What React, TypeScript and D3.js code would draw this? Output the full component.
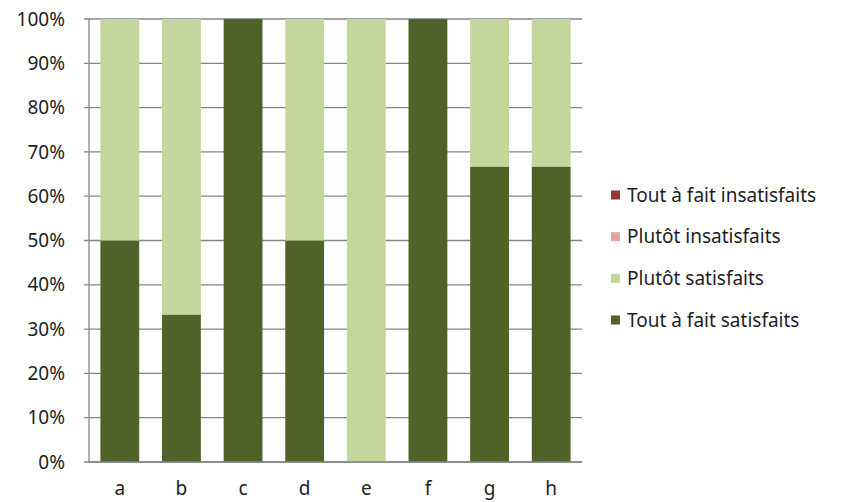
import React from "react";
import * as d3 from "d3";

const categories = ["a", "b", "c", "d", "e", "f", "g", "h"];
const toutSatisfaits = [50, 33.3, 100, 50, 0, 100, 66.7, 66.7];
const plutotSatisfaits = [50, 66.7, 0, 50, 100, 0, 33.3, 33.3];
const plutotInsatisfaits = [0, 0, 0, 0, 0, 0, 0, 0];
const toutInsatisfaits = [0, 0, 0, 0, 0, 0, 0, 0];
const yTicks = [0, 10, 20, 30, 40, 50, 60, 70, 80, 90, 100];

const seriesNames = ["Tout à fait satisfaits", "Plutôt satisfaits", "Plutôt insatisfaits", "Tout à fait insatisfaits"];
const seriesColors = ["#4f6228", "#c3d69b", "#e6a1a1", "#953735"];

export default function App() {
  const W = 845, H = 502;
  const left = 89, right = 582, top = 19, bottom = 462;
  const x = d3.scaleBand<string>().domain(categories).range([left, right]).paddingInner(0.37).paddingOuter(0.185);
  const y = d3.scaleLinear().domain([0, 100]).range([bottom, top]);

  const rows = categories.map((c, i) => ({
    cat: c,
    s0: toutSatisfaits[i],
    s1: plutotSatisfaits[i],
    s2: plutotInsatisfaits[i],
    s3: toutInsatisfaits[i],
  }));
  const stack = d3.stack<any>().keys(["s0", "s1", "s2", "s3"]);
  const layers = stack(rows);

  const font = "'Noto Sans', 'Open Sans', sans-serif";
  const fs = 19;
  const legendOrder = [3, 2, 1, 0];
  const legendY = d3.scalePoint<number>().domain([0, 1, 2, 3]).range([195, 320]);

  return (
    <svg width={W} height={H} style={{ position: "absolute", left: 0, top: 0, background: "#fff" }}>
      {yTicks.map((t) => (
        <line key={"g" + t} x1={left - 5} x2={right} y1={y(t)} y2={y(t)} stroke="#868686" strokeWidth={1.3} />
      ))}
      {layers.map((layer, li) =>
        layer.map((d, i) => (
          <rect
            key={li + "-" + i}
            x={x(categories[i])}
            width={x.bandwidth()}
            y={y(d[1])}
            height={Math.max(0, y(d[0]) - y(d[1]))}
            fill={seriesColors[li]}
          />
        ))
      )}
      <line x1={left} x2={left} y1={top} y2={bottom} stroke="#868686" strokeWidth={1.3} />
      <line x1={left} x2={right} y1={bottom} y2={bottom} stroke="#868686" strokeWidth={1.3} />
      {yTicks.map((t) => (
        <text key={"t" + t} x={65} y={y(t)} dy="0.35em" textAnchor="end" fontFamily={font} fontSize={fs} fill="#1e1e1e">
          {t}%
        </text>
      ))}
      {categories.map((c) => (
        <text key={"c" + c} x={x(c)! + x.bandwidth() / 2} y={495} textAnchor="middle" fontFamily={font} fontSize={fs} fill="#1e1e1e">
          {c}
        </text>
      ))}
      {legendOrder.map((si, k) => (
        <g key={"l" + si} transform={`translate(611, ${legendY(k)})`}>
          <rect x={0} y={-4.5} width={9} height={9} fill={seriesColors[si]} />
          <text x={16} y={0} dy="0.35em" fontFamily={font} fontSize={fs} fill="#1e1e1e">
            {seriesNames[si]}
          </text>
        </g>
      ))}
    </svg>
  );
}
